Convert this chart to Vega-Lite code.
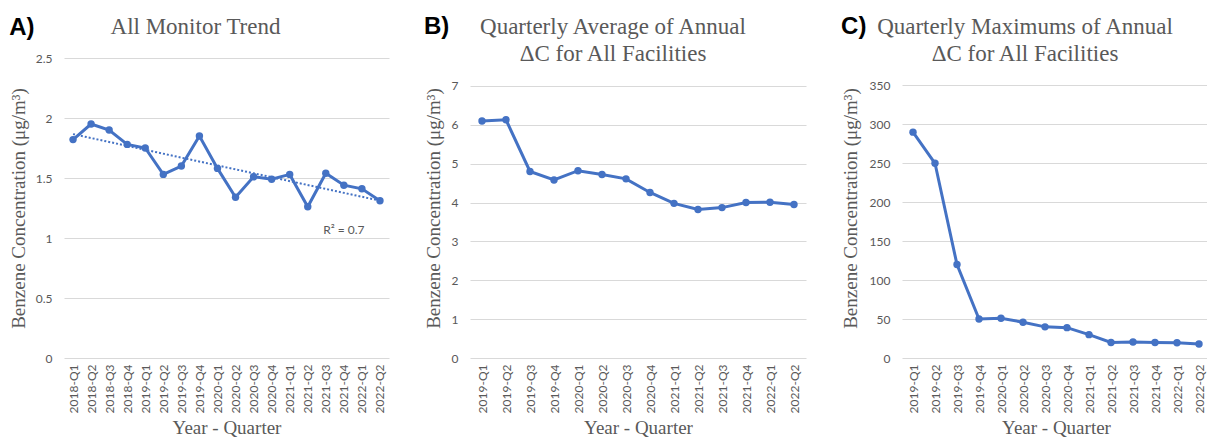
{
  "$schema": "https://vega.github.io/schema/vega-lite/v6.json",
  "padding": {"left": 9, "top": 15, "right": 0, "bottom": 0},
  "spacing": 35,
  "datasets": {
    "A": [
      {"idx": 1, "q": "2018-Q1", "v": 1.82},
      {"idx": 2, "q": "2018-Q2", "v": 1.95},
      {"idx": 3, "q": "2018-Q3", "v": 1.90},
      {"idx": 4, "q": "2018-Q4", "v": 1.78},
      {"idx": 5, "q": "2019-Q1", "v": 1.75},
      {"idx": 6, "q": "2019-Q2", "v": 1.53},
      {"idx": 7, "q": "2019-Q3", "v": 1.60},
      {"idx": 8, "q": "2019-Q4", "v": 1.85},
      {"idx": 9, "q": "2020-Q1", "v": 1.58},
      {"idx": 10, "q": "2020-Q2", "v": 1.34},
      {"idx": 11, "q": "2020-Q3", "v": 1.51},
      {"idx": 12, "q": "2020-Q4", "v": 1.49},
      {"idx": 13, "q": "2021-Q1", "v": 1.53},
      {"idx": 14, "q": "2021-Q2", "v": 1.26},
      {"idx": 15, "q": "2021-Q3", "v": 1.54},
      {"idx": 16, "q": "2021-Q4", "v": 1.44},
      {"idx": 17, "q": "2022-Q1", "v": 1.41},
      {"idx": 18, "q": "2022-Q2", "v": 1.31}
    ],
    "B": [
      {"q": "2019-Q1", "v": 6.10},
      {"q": "2019-Q2", "v": 6.13},
      {"q": "2019-Q3", "v": 4.80},
      {"q": "2019-Q4", "v": 4.58},
      {"q": "2020-Q1", "v": 4.82},
      {"q": "2020-Q2", "v": 4.72},
      {"q": "2020-Q3", "v": 4.61},
      {"q": "2020-Q4", "v": 4.26},
      {"q": "2021-Q1", "v": 3.98},
      {"q": "2021-Q2", "v": 3.82},
      {"q": "2021-Q3", "v": 3.87},
      {"q": "2021-Q4", "v": 4.00},
      {"q": "2022-Q1", "v": 4.01},
      {"q": "2022-Q2", "v": 3.95}
    ],
    "C": [
      {"q": "2019-Q1", "v": 290},
      {"q": "2019-Q2", "v": 250},
      {"q": "2019-Q3", "v": 120},
      {"q": "2019-Q4", "v": 50},
      {"q": "2020-Q1", "v": 51},
      {"q": "2020-Q2", "v": 46},
      {"q": "2020-Q3", "v": 40},
      {"q": "2020-Q4", "v": 39},
      {"q": "2021-Q1", "v": 30},
      {"q": "2021-Q2", "v": 20},
      {"q": "2021-Q3", "v": 20.5},
      {"q": "2021-Q4", "v": 20},
      {"q": "2022-Q1", "v": 19.5},
      {"q": "2022-Q2", "v": 18}
    ],
    "R": [
      {"q": "2021-Q4", "v": 1.07, "t": "R² = 0.7"}
    ]
  },
  "hconcat": [
    {
      "title": {"text": "A)", "anchor": "start", "offset": -24, "font": "Liberation Sans", "fontSize": 24, "fontWeight": "bold", "color": "#000000"},
      "vconcat": [
        {
          "title": {"text": "All Monitor Trend", "dx": -31, "offset": 13},
          "width": 325,
          "height": 300,
          "layer": [
            {
              "data": {"name": "A"},
              "mark": {"type": "line", "color": "#4472C4", "strokeWidth": 3, "point": {"filled": true, "size": 55, "color": "#4472C4"}},
              "encoding": {
                "x": {"field": "q", "type": "ordinal", "title": "Year - Quarter"},
                "y": {"field": "v", "type": "quantitative", "title": "Benzene Concentration (μg/m³)", "scale": {"domain": [0, 2.5], "nice": false}, "axis": {"values": [0, 0.5, 1, 1.5, 2, 2.5], "format": "~r", "titlePadding": 7}}
              }
            },
            {
              "data": {"name": "A"},
              "transform": [
                {"regression": "v", "on": "idx"},
                {"lookup": "idx", "from": {"data": {"name": "A"}, "key": "idx", "fields": ["q"]}}
              ],
              "mark": {"type": "line", "color": "#4472C4", "strokeWidth": 2, "strokeDash": [2, 2]},
              "encoding": {
                "x": {"field": "q", "type": "ordinal"},
                "y": {"field": "v", "type": "quantitative"}
              }
            },
            {
              "data": {"name": "R"},
              "mark": {"type": "text", "font": "Lato", "fontSize": 12, "color": "#595959"},
              "encoding": {
                "x": {"field": "q", "type": "ordinal"},
                "y": {"field": "v", "type": "quantitative"},
                "text": {"field": "t"}
              }
            }
          ]
        }
      ]
    },
    {
      "title": {"text": "B)", "anchor": "start", "offset": -23, "font": "Liberation Sans", "fontSize": 24, "fontWeight": "bold", "color": "#000000"},
      "vconcat": [
        {
          "title": {"text": ["Quarterly Average of Annual", "ΔC for All Facilities"], "dx": -25, "offset": -8},
          "width": 336,
          "height": 300,
          "data": {"name": "B"},
          "mark": {"type": "line", "color": "#4472C4", "strokeWidth": 3, "point": {"filled": true, "size": 55, "color": "#4472C4"}},
          "encoding": {
            "x": {"field": "q", "type": "ordinal", "title": "Year - Quarter"},
            "y": {"field": "v", "type": "quantitative", "title": "Benzene Concentration (μg/m³)", "scale": {"domain": [0, 7.72], "nice": false}, "axis": {"values": [0, 1, 2, 3, 4, 5, 6, 7], "titlePadding": 8}}
          }
        }
      ]
    },
    {
      "title": {"text": "C)", "anchor": "start", "offset": -23, "font": "Liberation Sans", "fontSize": 24, "fontWeight": "bold", "color": "#000000"},
      "vconcat": [
        {
          "title": {"text": ["Quarterly Maximums of Annual", "ΔC for All Facilities"], "dx": -31, "offset": -8},
          "width": 308,
          "height": 300,
          "data": {"name": "C"},
          "mark": {"type": "line", "color": "#4472C4", "strokeWidth": 3, "point": {"filled": true, "size": 55, "color": "#4472C4"}},
          "encoding": {
            "x": {"field": "q", "type": "ordinal", "title": "Year - Quarter"},
            "y": {"field": "v", "type": "quantitative", "title": "Benzene Concentration (μg/m³)", "scale": {"domain": [0, 385.2], "nice": false}, "axis": {"values": [0, 50, 100, 150, 200, 250, 300, 350], "titlePadding": 9}}
          }
        }
      ]
    }
  ],
  "config": {
    "view": {"stroke": null},
    "axis": {
      "labelFont": "Lato",
      "labelFontSize": 12,
      "labelColor": "#595959",
      "titleFont": "Liberation Serif",
      "titleFontSize": 19,
      "titleFontWeight": "normal",
      "titleColor": "#595959",
      "domain": false,
      "ticks": false,
      "gridColor": "#D9D9D9",
      "gridWidth": 1
    },
    "axisX": {"grid": false, "labelAngle": -90, "labelPadding": 6, "titlePadding": 6},
    "axisY": {"labelPadding": 12},
    "title": {
      "font": "Liberation Serif",
      "fontSize": 23,
      "fontWeight": "normal",
      "color": "#595959",
      "lineHeight": 27
    }
  }
}
